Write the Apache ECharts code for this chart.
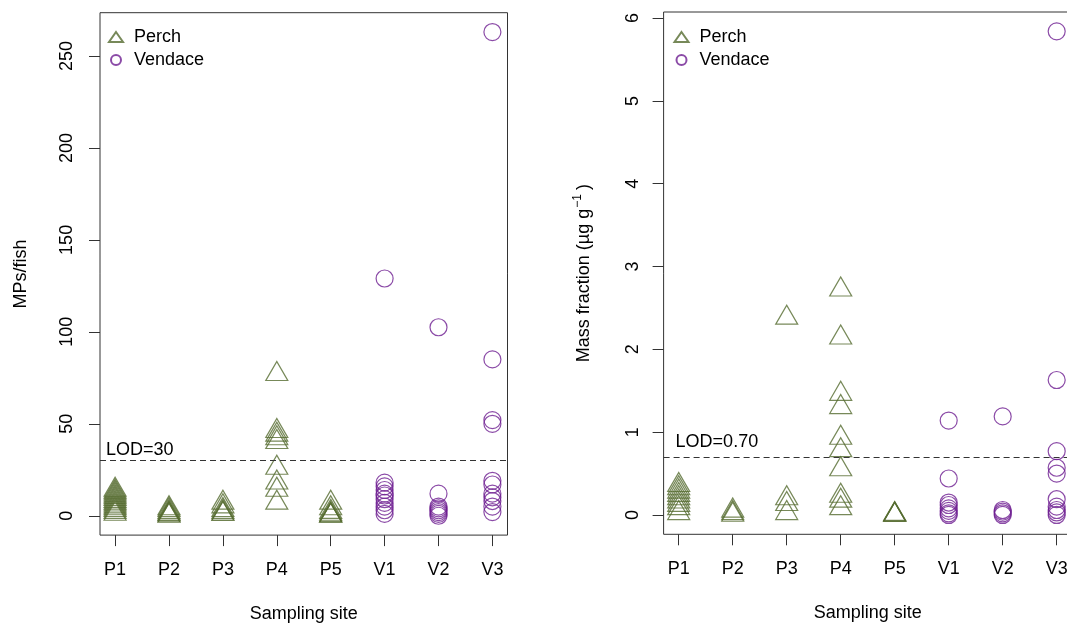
<!DOCTYPE html>
<html>
<head>
<meta charset="utf-8">
<script src="https://cdn.jsdelivr.net/npm/echarts@6/dist/echarts.min.js"></script>
<style>
html,body{margin:0;padding:0;background:#fff;}
#c{width:1067px;height:623px;}
</style>
</head>
<body>
<div id="c"></div>
<script>
// ---- categories ----
const sites = ['P1', 'P2', 'P3', 'P4', 'P5', 'V1', 'V2', 'V3'];
const perchSites = ['P1', 'P2', 'P3', 'P4', 'P5'];
const vendaceSites = ['V1', 'V2', 'V3'];

// ---- left panel: MPs per fish ----
const mpsP1 = [1, 2, 3, 4, 5, 6, 7, 8, 9, 10, 11, 12, 13, 14];
const mpsP2 = [0, 0, 1, 1, 2, 3, 4];
const mpsP3 = [1, 1, 2, 3, 5, 7];
const mpsP4 = [77, 46, 44, 42, 40, 26, 18, 14, 7];
const mpsP5 = [0, 0, 0, 1, 2, 4, 7];
const mpsV1 = [129, 18, 16, 14, 12, 11, 9, 7, 5, 3, 1];
const mpsV2 = [102.5, 12, 5, 4, 3, 2, 1, 0];
const mpsV3 = [263, 85, 52, 50, 19, 17, 12, 10, 8, 5, 2];
const mpsLOD = 30;
const mpsTicks = [0, 50, 100, 150, 200, 250];

// ---- right panel: mass fraction (ug/g) ----
const mfP1 = [0.02, 0.08, 0.12, 0.16, 0.2, 0.24, 0.28, 0.32, 0.36];
const mfP2 = [0, 0.02, 0.05];
const mfP3 = [2.38, 0.2, 0.13, 0.02];
const mfP4 = [2.72, 2.14, 1.46, 1.3, 0.93, 0.78, 0.55, 0.23, 0.17, 0.08];
const mfP5 = [0, 0, 0, 0.01];
const mfV1 = [1.14, 0.44, 0.15, 0.12, 0.08, 0.05, 0.02, 0];
const mfV2 = [1.19, 0.06, 0.04, 0.02, 0];
const mfV3 = [5.84, 1.63, 0.77, 0.57, 0.5, 0.19, 0.1, 0.06, 0.03, 0];
const mfLOD = 0.70;
const mfTicks = [0, 1, 2, 3, 4, 5, 6];

// ---- build points ----
function pts(names, arrays) {
  const out = [];
  names.forEach((n, i) => {
    const x = sites.indexOf(n) + 1;
    arrays[i].forEach(v => out.push([x, v]));
  });
  return out;
}
const mpsPerch = pts(perchSites, [mpsP1, mpsP2, mpsP3, mpsP4, mpsP5]);
const mpsVendace = pts(vendaceSites, [mpsV1, mpsV2, mpsV3]);
const mfPerch = pts(perchSites, [mfP1, mfP2, mfP3, mfP4, mfP5]);
const mfVendace = pts(vendaceSites, [mfV1, mfV2, mfV3]);

function range(all) {
  const vals = all.map(p => p[1]);
  const lo = Math.min(...vals), hi = Math.max(...vals);
  const pad = 0.04 * (hi - lo);
  return [lo - pad, hi + pad];
}
const mpsRange = range(mpsPerch.concat(mpsVendace));
const mfRange = range(mfPerch.concat(mfVendace));
const xPad = 0.04 * (sites.length - 1);
const xMin = 1 - xPad, xMax = sites.length + xPad;
const siteIdx = sites.map((s, i) => i + 1);

const GREEN = '#556B2F';
const PURPLE = '#6E1E91';
const FONT = 'Liberation Sans, Arial, sans-serif';
const AX = '#333';

function xAxisFor(i) {
  return {
    type: 'value', gridIndex: i, min: xMin, max: xMax,
    name: 'Sampling site', nameLocation: 'middle', nameGap: 70,
    nameTextStyle: { fontSize: 18, color: '#000', fontFamily: FONT },
    axisLine: { show: false, onZero: false }, splitLine: { show: false },
    axisTick: { show: true, length: 11, customValues: siteIdx, lineStyle: { color: AX, width: 1 } },
    axisLabel: { customValues: siteIdx, formatter: v => sites[Math.round(v) - 1], fontSize: 18, color: '#000', fontFamily: FONT, margin: 26 }
  };
}
function yAxisFor(i, rng, ticks, name, gap, rich, lm) {
  return {
    type: 'value', gridIndex: i, min: rng[0], max: rng[1],
    name: name, nameLocation: 'middle', nameGap: gap, nameRotate: 90,
    nameTextStyle: { fontSize: 18, color: '#000', fontFamily: FONT, rich: rich },
    axisLine: { show: false, onZero: false }, splitLine: { show: false },
    axisTick: { show: true, length: 11, customValues: ticks, lineStyle: { color: AX, width: 1 } },
    axisLabel: { customValues: ticks, rotate: 90, fontSize: 18, color: '#000', fontFamily: FONT, margin: lm }
  };
}
function lodLine(val, text, dist) {
  return {
    silent: true, symbol: 'none', animation: false,
    lineStyle: { color: AX, type: [6, 4], width: 1.2 },
    label: { show: true, position: 'insideStartTop', formatter: text, fontSize: 18, color: '#000', fontFamily: FONT, distance: dist },
    data: [{ yAxis: val }]
  };
}
const triStyle = {
  symbol: 'triangle', symbolSize: [22, 19], symbolOffset: [0, -3.2],
  itemStyle: { color: 'rgba(0,0,0,0)', borderColor: GREEN, borderWidth: 1.2 }
};
const cirStyle = {
  symbol: 'circle', symbolSize: 17,
  itemStyle: { color: 'rgba(0,0,0,0)', borderColor: PURPLE, borderWidth: 1.2 }
};
function legendFor(left) {
  return {
    left: left, top: 22, orient: 'vertical', itemGap: 3, itemWidth: 14, itemHeight: 10,
    textStyle: { fontSize: 18, color: '#000', fontFamily: FONT, lineHeight: 20, padding: [0, 0, 0, 6] },
    data: [
      { name: 'Perch', icon: 'triangle' },
      { name: 'Vendace', icon: 'circle' }
    ]
  };
}

const option = {
  animation: false,
  backgroundColor: '#fff',
  grid: [
    { left: 100, top: 12.7, width: 407.5, height: 522.4, show: true, borderColor: AX, borderWidth: 1, backgroundColor: 'transparent', outerBoundsMode: 'none', containLabel: false },
    { left: 663.6, top: 12, width: 408.2, height: 522.3, show: true, borderColor: AX, borderWidth: 1, backgroundColor: 'transparent', outerBoundsMode: 'none', containLabel: false }
  ],
  legend: [legendFor(103), legendFor(668.5)],
  xAxis: [xAxisFor(0), xAxisFor(1)],
  yAxis: [
    yAxisFor(0, mpsRange, mpsTicks, 'MPs/fish', 70, {}, 23.5),
    yAxisFor(1, mfRange, mfTicks, 'Mass fraction (µg g{sup|−1})', 68,
      { sup: { fontSize: 12, color: '#000', fontFamily: FONT, padding: [0, 4, 12, 1] } }, 22)
  ],
  series: [
    Object.assign({ type: 'scatter', name: 'Perch', xAxisIndex: 0, yAxisIndex: 0, data: mpsPerch,
      markLine: lodLine(mpsLOD, 'LOD=30', [6, 2]) }, triStyle),
    Object.assign({ type: 'scatter', name: 'Vendace', xAxisIndex: 0, yAxisIndex: 0, data: mpsVendace }, cirStyle),
    Object.assign({ type: 'scatter', name: 'Perch', xAxisIndex: 1, yAxisIndex: 1, data: mfPerch,
      markLine: lodLine(mfLOD, 'LOD=0.70', [12, 6]) }, triStyle),
    Object.assign({ type: 'scatter', name: 'Vendace', xAxisIndex: 1, yAxisIndex: 1, data: mfVendace }, cirStyle)
  ]
};
const chart = echarts.init(document.getElementById('c'));
chart.setOption(option);
</script>
</body>
</html>
